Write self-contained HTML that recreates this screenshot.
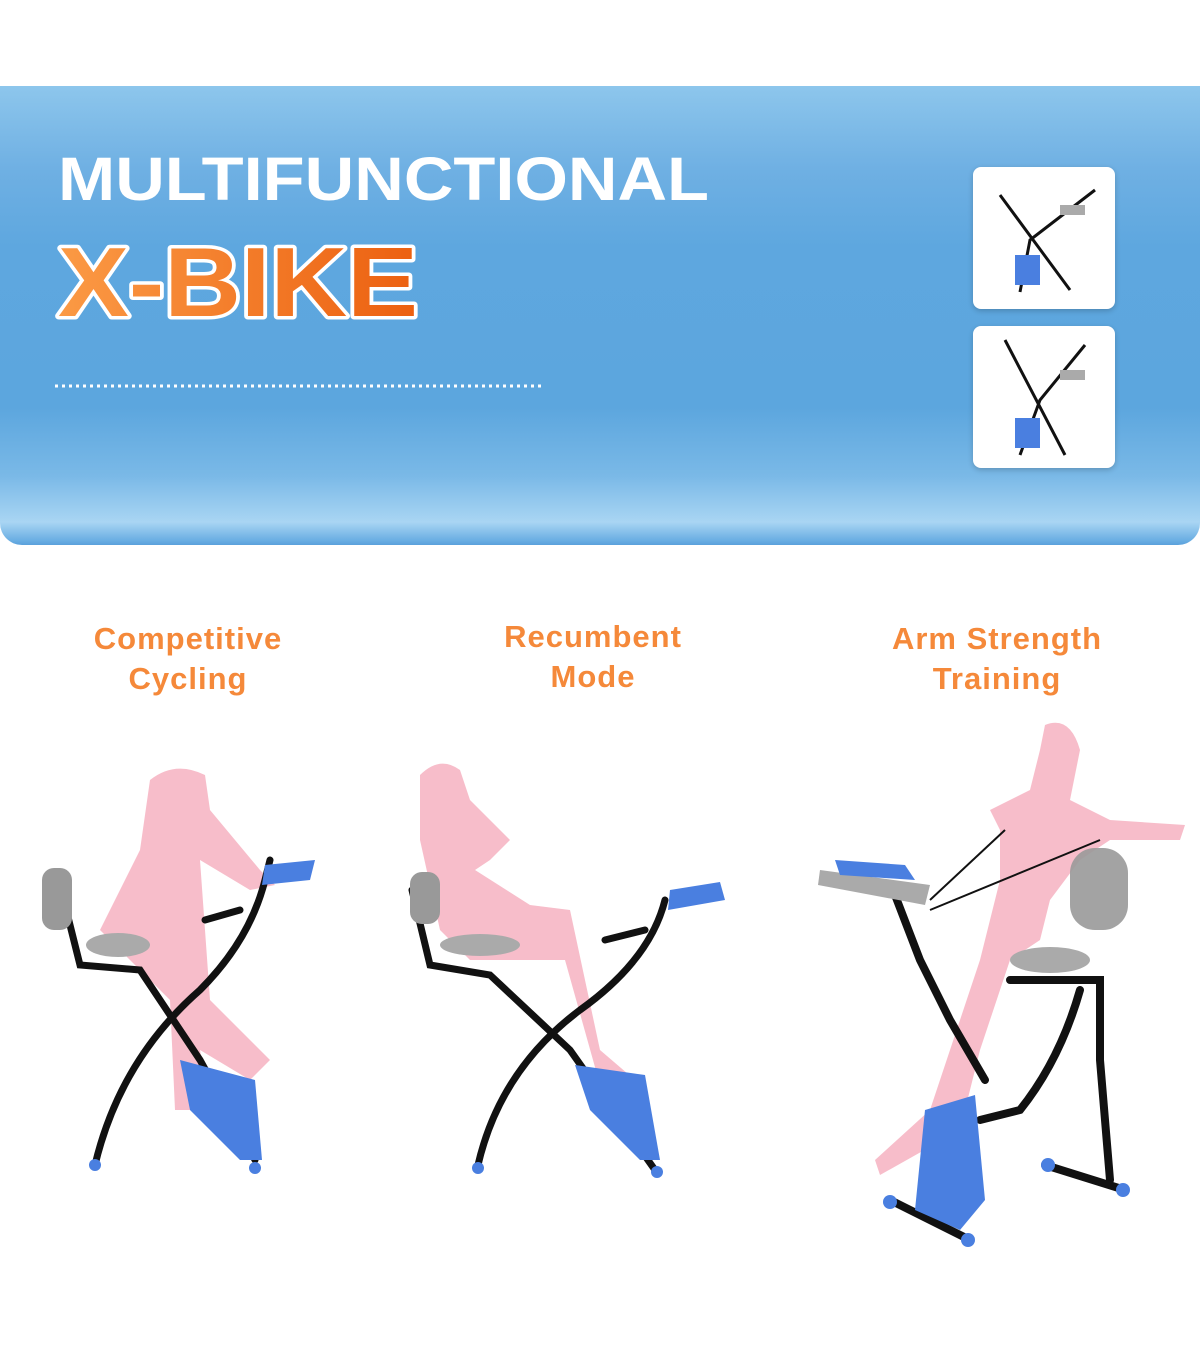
<!DOCTYPE html>
<html><head><meta charset="utf-8"><style>
html,body{margin:0;padding:0;background:#fff}
body{width:1200px;height:1372px;position:relative;overflow:hidden;font-family:"Liberation Sans",sans-serif}
.banner{position:absolute;left:0;top:86px;width:1200px;height:459px;border-radius:0 0 22px 22px;
background:linear-gradient(180deg,#8dc6ec 0%,#6fb0e3 18%,#5ea7df 35%,#5ca6de 70%,#7ab9e7 85%,#a9d5f3 95%,#6aaee3 99%,#5aa0db 100%);}
.thumb{position:absolute;left:973px;width:142px;height:142px;background:#fff;border-radius:8px;box-shadow:0 2px 6px rgba(0,0,0,.2)}
.lab{position:absolute;width:360px;text-align:center;color:#f5893a;font-size:31px;font-weight:bold;line-height:40px;letter-spacing:1px}
</style></head><body>
<div class="banner"></div>
<svg width="1200" height="560" style="position:absolute;left:0;top:0">
<defs><linearGradient id="og" x1="0" x2="1"><stop offset="0" stop-color="#fb9a45"/><stop offset="1" stop-color="#ec6010"/></linearGradient></defs>
<text x="58" y="200" textLength="651" lengthAdjust="spacingAndGlyphs" font-family="Liberation Sans" font-weight="bold" font-size="61" fill="#fff">MULTIFUNCTIONAL</text>
<text x="58" y="316" textLength="360" lengthAdjust="spacingAndGlyphs" font-family="Liberation Sans" font-weight="bold" font-size="98" fill="url(#og)" stroke="#fff" stroke-width="7" paint-order="stroke" stroke-linejoin="round">X-BIKE</text>
<line x1="55" y1="386" x2="545" y2="386" stroke="#fff" stroke-width="3" stroke-dasharray="3,4"/>
</svg>
<div class="thumb" style="top:167px"></div>
<div class="thumb" style="top:326px"></div>
<svg width="1200" height="1372" style="position:absolute;left:0;top:0">
<!-- thumbs -->
<g stroke="#111" stroke-width="3" fill="none">
<path d="M1000 195 L1070 290 M1095 190 L1030 240 L1020 292"/>
<path d="M1005 340 L1065 455 M1085 345 L1040 400 L1020 455"/>
</g>
<rect x="1015" y="255" width="25" height="30" fill="#4a7fe0"/><rect x="1015" y="418" width="25" height="30" fill="#4a7fe0"/>
<rect x="1060" y="205" width="25" height="10" fill="#aaa"/><rect x="1060" y="370" width="25" height="10" fill="#aaa"/>
<!-- bike 1 -->
<path d="M150 780 Q175 760 205 775 L210 810 L260 870 L275 885 L250 890 L200 860 L210 1000 L270 1060 L250 1080 L200 1050 L210 1110 L175 1110 L170 1000 L130 960 L100 930 L140 850 Z" fill="#f4a7b8" opacity=".75"/>
<g stroke="#111" stroke-width="7" fill="none" stroke-linecap="round">
<path d="M65 905 L80 965 L140 970 L200 1060 L255 1160"/>
<path d="M95 1165 Q120 1060 200 990 Q250 940 265 880 L270 860"/>
<path d="M205 920 L240 910"/>
</g>
<rect x="42" y="868" width="30" height="62" rx="12" fill="#999"/>
<ellipse cx="118" cy="945" rx="32" ry="12" fill="#aaa"/>
<path d="M180 1060 L255 1080 L262 1160 L240 1160 L190 1110 Z" fill="#4a7fe0"/>
<path d="M265 865 L315 860 L310 880 L262 885 Z" fill="#4a7fe0"/>
<circle cx="95" cy="1165" r="6" fill="#4a7fe0"/><circle cx="255" cy="1168" r="6" fill="#4a7fe0"/>
<!-- bike 2 -->
<path d="M420 775 Q440 755 460 770 L470 800 L510 840 L490 860 L475 870 L530 905 L570 910 L600 1050 L635 1080 L600 1085 L565 960 L470 960 L440 930 L420 840 Z" fill="#f4a7b8" opacity=".75"/>
<g stroke="#111" stroke-width="7" fill="none" stroke-linecap="round">
<path d="M412 890 L430 965 L490 975 L570 1050 L655 1170"/>
<path d="M478 1165 Q500 1070 580 1010 Q650 960 665 900"/>
<path d="M605 940 L645 930"/>
</g>
<rect x="410" y="872" width="30" height="52" rx="12" fill="#999"/>
<ellipse cx="480" cy="945" rx="40" ry="11" fill="#aaa"/>
<path d="M575 1065 L645 1075 L660 1160 L640 1160 L590 1110 Z" fill="#4a7fe0"/>
<path d="M670 890 L720 882 L725 900 L668 910 Z" fill="#4a7fe0"/>
<circle cx="478" cy="1168" r="6" fill="#4a7fe0"/><circle cx="657" cy="1172" r="6" fill="#4a7fe0"/>
<!-- bike 3 -->
<path d="M1045 725 Q1070 715 1080 750 L1070 800 L1110 820 L1185 825 L1180 840 L1110 840 L1080 860 L1050 900 L1040 940 L1010 960 L980 1050 L960 1130 L880 1175 L875 1160 L930 1110 L980 960 L1000 880 L1000 830 L990 810 L1030 790 L1040 750 Z" fill="#f4a7b8" opacity=".75"/>
<g stroke="#111" stroke-width="8" fill="none" stroke-linecap="round">
<path d="M895 895 L920 960 L950 1020 L985 1080"/>
<path d="M1010 980 L1100 980 L1100 1060 L1110 1180"/>
<path d="M1080 990 Q1060 1060 1020 1110 L980 1120"/>
<path d="M890 1200 L970 1240 M1045 1165 L1125 1190"/>
</g>
<g stroke="#111" stroke-width="2"><line x1="930" y1="910" x2="1100" y2="840"/><line x1="930" y1="900" x2="1005" y2="830"/></g>
<path d="M925 1110 L975 1095 L985 1200 L960 1230 L915 1210 Z" fill="#4a7fe0"/>
<rect x="1070" y="848" width="58" height="82" rx="25" fill="#999" opacity=".9"/>
<ellipse cx="1050" cy="960" rx="40" ry="13" fill="#aaa"/>
<path d="M820 870 L930 885 L925 905 L818 885 Z" fill="#aaa"/>
<path d="M835 860 L905 865 L915 880 L840 875 Z" fill="#4a7fe0"/>
<circle cx="890" cy="1202" r="7" fill="#4a7fe0"/><circle cx="968" cy="1240" r="7" fill="#4a7fe0"/><circle cx="1123" cy="1190" r="7" fill="#4a7fe0"/><circle cx="1048" cy="1165" r="7" fill="#4a7fe0"/>
</svg>
<div class="lab" style="left:8px;top:619px">Competitive<br>Cycling</div>
<div class="lab" style="left:413px;top:617px">Recumbent<br>Mode</div>
<div class="lab" style="left:817px;top:619px">Arm Strength<br>Training</div>
</body></html>
